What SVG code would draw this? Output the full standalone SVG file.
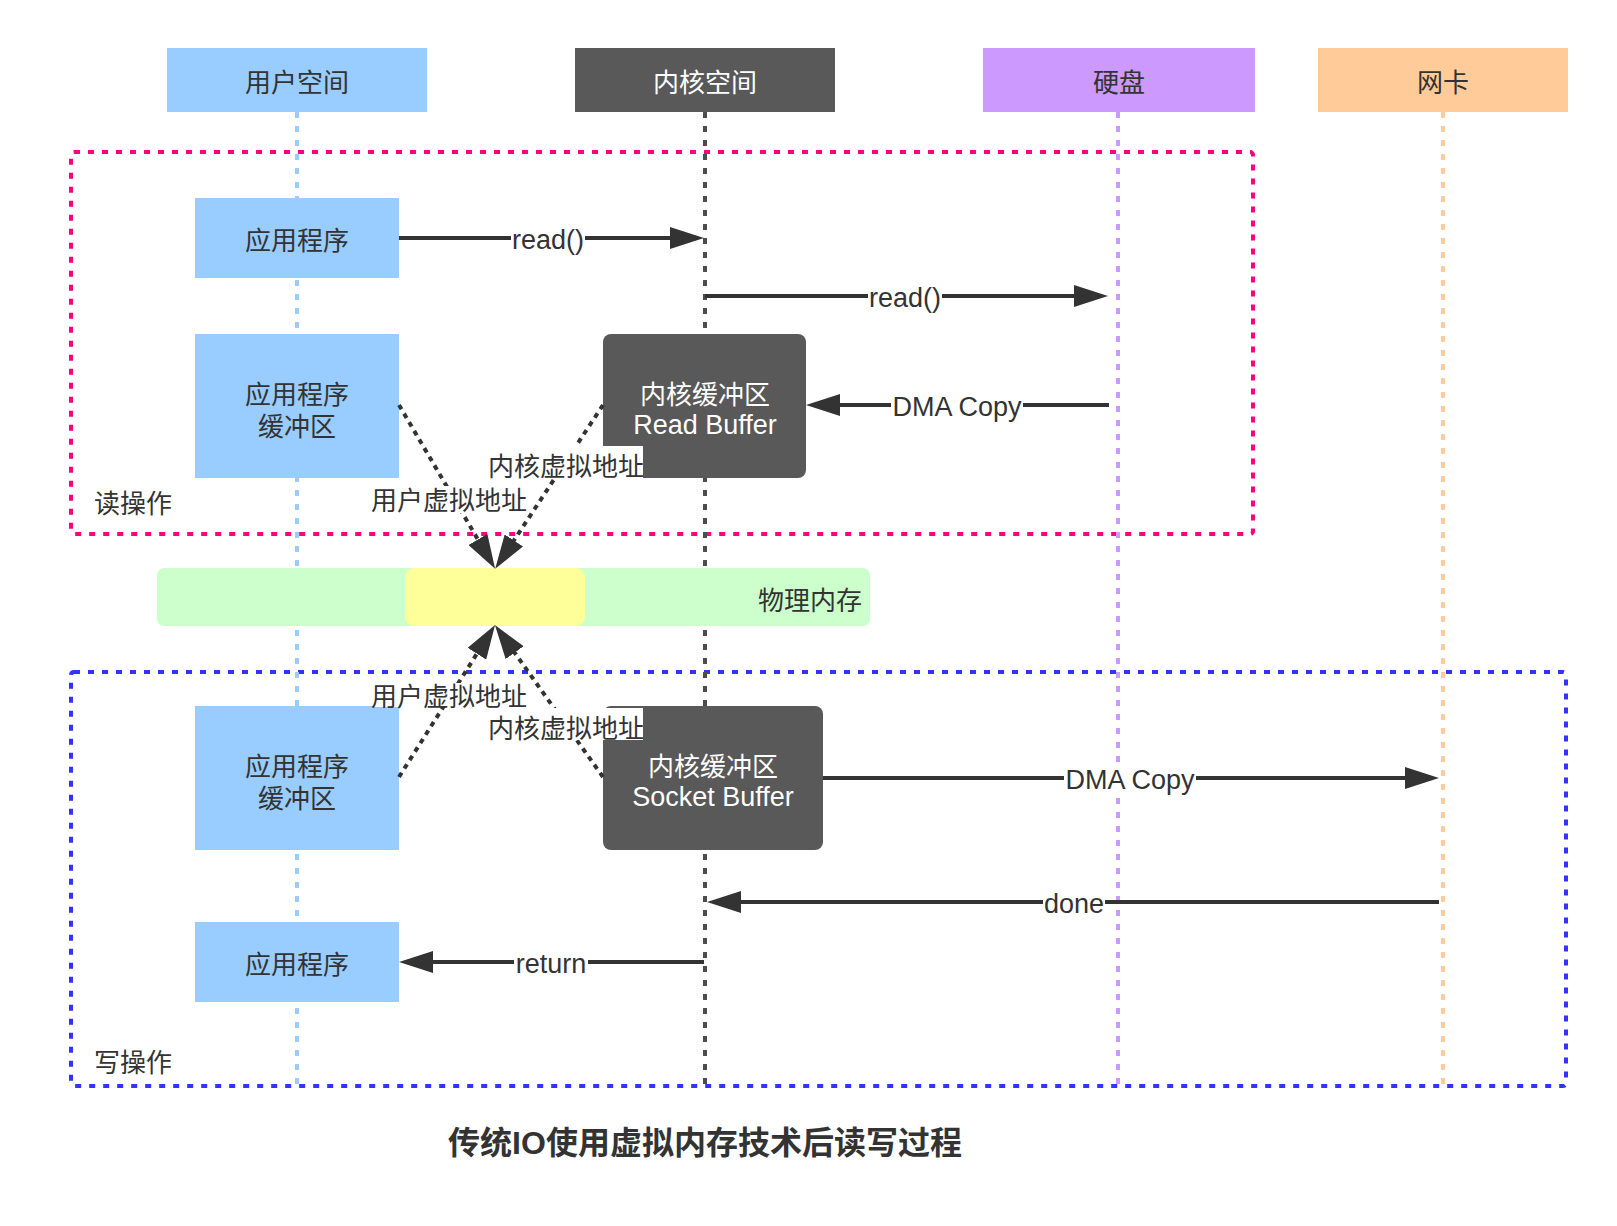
<svg xmlns="http://www.w3.org/2000/svg" width="1617" height="1226" viewBox="0 0 1617 1226">
<style>
text{font-family:"Liberation Sans","Noto Sans CJK SC",sans-serif;font-size:26px;fill:#333;}
.c{text-anchor:middle;dominant-baseline:central;}
.lat{font-size:27px;}
.w{fill:#fff;}
.life{stroke-width:4;stroke-dasharray:6 8;fill:none;}
.arrow{stroke:#333;stroke-width:4;fill:none;marker-end:url(#ah);}
.dot{stroke:#333;stroke-width:4;stroke-dasharray:5 5;fill:none;marker-end:url(#ah);}
.lbg{fill:#fff;}
.app{fill:#99ccff;}
.kbuf{fill:#595959;}
.title{font-size:32px;font-weight:bold;}
</style>
<defs>
<marker id="ah" markerWidth="34" markerHeight="22" refX="18" refY="11" orient="auto" markerUnits="userSpaceOnUse">
<path d="M0,0 L34,11 L0,22 z" fill="#333"/>
</marker>
</defs>

<g id="containers">
<rect id="read-op" x="71" y="152" width="1182" height="382" rx="3" fill="none" stroke="#ff0080" stroke-width="4" stroke-dasharray="6 8"/>
<text x="94" y="504" dominant-baseline="central">读操作</text>
<rect id="write-op" x="71" y="672" width="1495" height="414" rx="3" fill="none" stroke="#3333ff" stroke-width="4" stroke-dasharray="6 8"/>
<text x="94" y="1063" dominant-baseline="central">写操作</text>
</g>

<g id="lifelines">
<line class="life" x1="297" y1="112" x2="297" y2="1092" stroke="#99ccff"/>
<line class="life" x1="705" y1="112" x2="705" y2="1092" stroke="#4d4d4d"/>
<line class="life" x1="1118" y1="112" x2="1118" y2="1092" stroke="#cc99ff"/>
<line class="life" x1="1443" y1="112" x2="1443" y2="1092" stroke="#ffcc99"/>
</g>

<g id="user-space">
<rect x="167" y="48" width="260" height="64" fill="#99ccff"/>
<text class="c" x="297" y="83">用户空间</text>
</g>
<g id="kernel-space">
<rect x="575" y="48" width="260" height="64" fill="#595959"/>
<text class="c w" x="705" y="83">内核空间</text>
</g>
<g id="disk">
<rect x="983" y="48" width="272" height="64" fill="#cc99ff"/>
<text class="c" x="1119" y="83">硬盘</text>
</g>
<g id="nic">
<rect x="1318" y="48" width="250" height="64" fill="#ffcc99"/>
<text class="c" x="1443" y="83">网卡</text>
</g>

<g id="physical-memory">
<rect x="157" y="568" width="713" height="58" rx="7" fill="#ccffcc"/>
<rect x="405" y="568" width="180" height="58" rx="9" fill="#ffff99"/>
<text class="c" x="810" y="601">物理内存</text>
</g>

<g id="app-read">
<rect class="app" x="195" y="198" width="204" height="80"/>
<text class="c" x="297" y="241">应用程序</text>
</g>
<g id="app-buffer-read">
<rect class="app" x="195" y="334" width="204" height="144"/>
<text class="c" x="297" y="395">应用程序</text>
<text class="c" x="297" y="427">缓冲区</text>
</g>
<g id="read-buffer">
<rect class="kbuf" x="603" y="334" width="203" height="144" rx="8"/>
<text class="c w" x="705" y="395">内核缓冲区</text>
<text class="c w lat" x="705" y="425">Read Buffer</text>
</g>
<g id="app-buffer-write">
<rect class="app" x="195" y="706" width="204" height="144"/>
<text class="c" x="297" y="767">应用程序</text>
<text class="c" x="297" y="799">缓冲区</text>
</g>
<g id="socket-buffer">
<rect class="kbuf" x="603" y="706" width="220" height="144" rx="8"/>
<text class="c w" x="713" y="767">内核缓冲区</text>
<text class="c w lat" x="713" y="797">Socket Buffer</text>
</g>
<g id="app-write">
<rect class="app" x="195" y="922" width="204" height="80"/>
<text class="c" x="297" y="965">应用程序</text>
</g>

<g id="connectors">
<line class="arrow" x1="399" y1="238" x2="688" y2="238"/>
<rect class="lbg" x="511" y="225" width="74" height="28"/>
<text class="c lat" x="548" y="240">read()</text>

<line class="arrow" x1="705" y1="296" x2="1092" y2="296"/>
<rect class="lbg" x="868" y="283" width="74" height="28"/>
<text class="c lat" x="905" y="298">read()</text>

<line class="arrow" x1="1109" y1="405" x2="822" y2="405"/>
<rect class="lbg" x="891" y="392" width="132" height="28"/>
<text class="c lat" x="957" y="407">DMA Copy</text>

<line class="dot" x1="399" y1="405" x2="487" y2="555"/>
<line class="dot" x1="603" y1="405" x2="504" y2="555.5"/>
<rect class="lbg" x="372" y="486" width="155" height="27"/>
<text class="c" x="449" y="501">用户虚拟地址</text>
<rect class="lbg" x="488" y="446" width="155" height="32"/>
<text class="c" x="566" y="467">内核虚拟地址</text>

<line class="dot" x1="399" y1="777" x2="486.5" y2="638.5"/>
<line class="dot" x1="603" y1="777" x2="504.2" y2="638"/>
<rect class="lbg" x="372" y="683" width="155" height="24"/>
<text class="c" x="449" y="697">用户虚拟地址</text>
<rect class="lbg" x="488" y="708" width="155" height="32"/>
<text class="c" x="566" y="729">内核虚拟地址</text>

<line class="arrow" x1="823" y1="778" x2="1423" y2="778"/>
<rect class="lbg" x="1064" y="765" width="132" height="28"/>
<text class="c lat" x="1130" y="780">DMA Copy</text>

<line class="arrow" x1="1439" y1="902" x2="723" y2="902"/>
<rect class="lbg" x="1043" y="889" width="62" height="28"/>
<text class="c lat" x="1074" y="904">done</text>

<line class="arrow" x1="704" y1="962" x2="415" y2="962"/>
<rect class="lbg" x="514" y="949" width="74" height="28"/>
<text class="c lat" x="551" y="964">return</text>
</g>

<text class="c title" x="705" y="1143">传统IO使用虚拟内存技术后读写过程</text>
</svg>
